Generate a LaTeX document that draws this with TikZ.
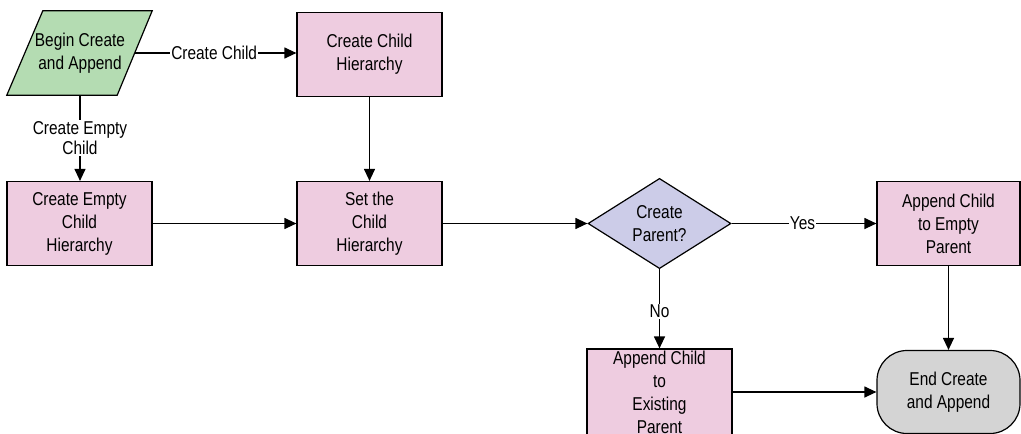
\documentclass[tikz,border=0pt]{standalone}
\usepackage{fontspec}
\setmainfont{Liberation Sans}[FakeStretch=0.83]
\usetikzlibrary{shapes.geometric,arrows.meta,backgrounds}
\definecolor{greenc}{RGB}{180,220,178}
\definecolor{pinkc}{RGB}{238,204,224}
\definecolor{lavc}{RGB}{204,204,232}
\definecolor{grayc}{RGB}{212,212,212}
\begin{document}
\begin{tikzpicture}[x=1pt,y=-1pt,
  font=\fontsize{18.6}{23}\selectfont,
  box/.style={draw=black,line width=1.2pt,fill=pinkc,minimum width=145pt,minimum height=84pt,inner sep=0pt,align=center},
  startbox/.style={minimum width=110pt,minimum height=84pt,inner sep=0pt,align=center},
  decision/.style={diamond,draw=black,line width=1.2pt,fill=lavc,minimum width=143pt,minimum height=83pt,inner sep=0pt,align=center},
  terminal/.style={draw=black,line width=1.2pt,fill=grayc,rounded corners=30pt,minimum width=143pt,minimum height=83pt,inner sep=0pt,align=center},
  conn/.style={line width=1.2pt,-{Triangle[length=12pt,width=11pt]}},
  lbl/.style={fill=white,inner sep=1pt,align=center,font=\fontsize{18.6}{20}\selectfont}
]
\useasboundingbox (0,0) rectangle (1021,434);
\clip (0,0) rectangle (1021,434);

\node[startbox] (begin) at (80,53) {Begin Create\\and Append};
\begin{scope}[on background layer]
\draw[line width=1.2pt,fill=greenc] ([xshift=-18pt]begin.south west) -- ([xshift=18pt]begin.north west) -- ([xshift=17pt]begin.north east) -- ([xshift=-18pt]begin.south east) -- cycle;
\end{scope}

\node[box] (cch) at (369.5,54.5) {Create Child\\Hierarchy};
\node[box] (set) at (369.5,223.5) {Set the\\Child\\Hierarchy};
\node[box] (ceh) at (79.5,223.5) {Create Empty\\Child\\Hierarchy};
\node[decision] (dia) at (659.5,223.5) {Create\\Parent?};
\node[box,minimum width=143pt] (aep) at (948.5,223.5) {Append Child\\to Empty\\Parent};
\node[box,inner ysep=-3pt,minimum height=86pt] (aex) at (659.5,392) {Append Child\\to\\Existing\\Parent};
\node[terminal] (end) at (948.5,392) {End Create\\and Append};

\draw[conn] (begin.east) -- node[lbl,pos=0.49]{Create Child} (begin.east -| cch.west);
\draw[conn] (begin.south) -- node[lbl,pos=0.5]{Create Empty\\Child} (begin.south |- ceh.north);
\draw[conn] (cch) -- (set);
\draw[conn] (ceh) -- (set);
\draw[conn] (set) -- (dia);
\draw[conn] (dia) -- node[lbl,pos=0.49]{Yes} (aep);
\draw[conn] (dia) -- node[lbl,pos=0.53]{No} (aex);
\draw[conn] (aep) -- (end);
\draw[conn] (aex) -- (end);
\end{tikzpicture}
\end{document}
